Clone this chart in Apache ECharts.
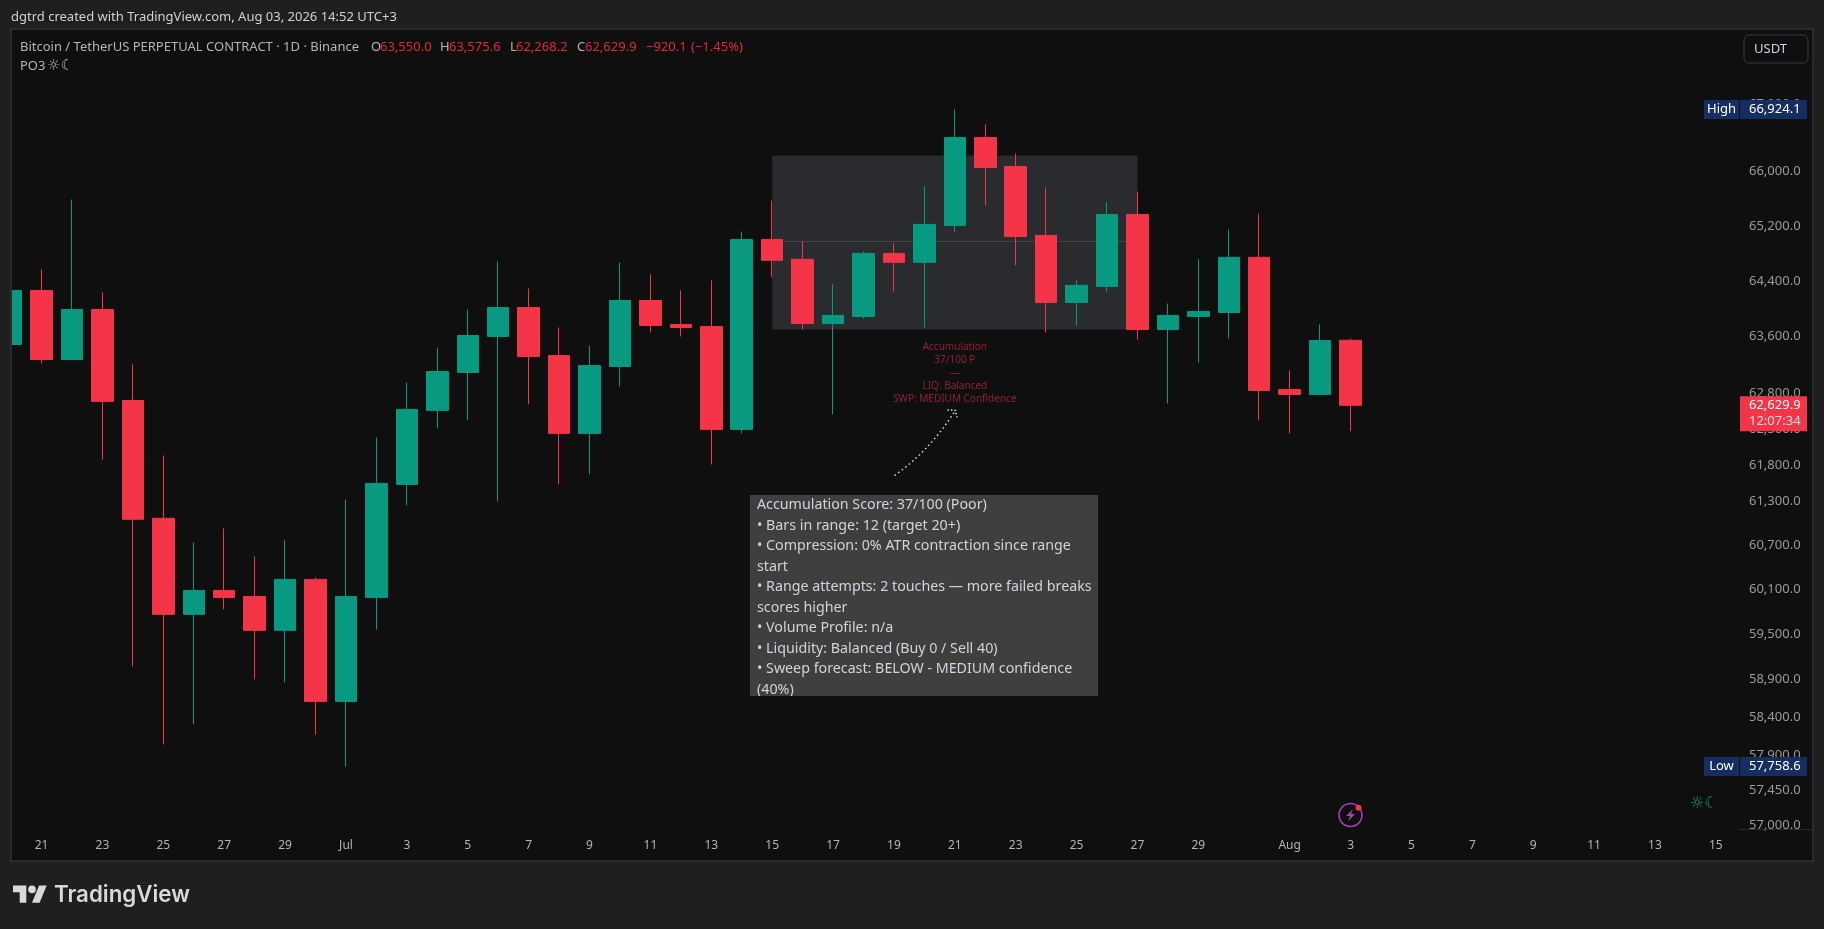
<!DOCTYPE html>
<html>
<head>
<meta charset="utf-8">
<style>html,body{margin:0;padding:0;background:#1f1f1f}#c{width:1824px;height:929px}</style>
<script src="https://cdn.jsdelivr.net/npm/echarts@6/dist/echarts.min.js"></script>
</head>
<body>
<div id="c"></div>
<script>
// Day index: 0 = 21 Jun
const barDays = [-1,0,1,2,3,4,5,6,7,8,9,10,11,12,13,14,15,16,17,18,19,20,21,22,23,24,25,26,27,28,29,30,31,32,33,34,35,36,37,38,39,40,41,42,43];
const opens  = [63490,64264,63276,63990,62698,61064,59763,60084,60003,59549,60233,58608,59990,61529,62559,63093,63604,64019,63332,62237,63178,64119,63776,63747,62293,65003,64714,63790,63890,64800,64670,65207,66506,66075,65061,64090,64322,65368,63704,63890,63947,64743,62853,62783,63550.0];
const closes = [64264,63276,63990,62685,61050,59763,60084,59990,59549,60233,58608,60003,61543,62573,63107,63618,64019,63318,62237,63192,64119,63762,63733,62293,65003,64699,63790,63905,64800,64670,65222,66506,66060,65046,64090,64337,65368,63704,63905,63962,64743,62839,62783,63547,62629.9];
const lows   = [63490,63220,63276,61874,59069,58045,58307,59830,58897,58858,58176,57758.6,59562,61242,62307,62419,61296,62643,61529,61667,62895,63661,63604,61805,62237,64453,63704,62503,63862,64250,63733,65105,65499,64627,63661,63762,64250,63561,62657,63234,63576,62419,62237,62783,62268.2];
const highs  = [64264,64569,65587,64235,63206,61929,60735,60926,60543,60762,60260,61322,62181,62952,63447,63990,64685,64293,63733,63476,64670,64496,64264,64409,65119,65572,64973,64351,64828,64944,65779,66924.1,66699,66268,65764,64409,65543,65705,64076,64714,65149,65382,63121,63776,63575.6];

const priceTicks = [67000,66000,65200,64400,63600,62800,62300,61800,61300,60700,60100,59500,58900,58400,57900,57450,57000];
const dayTicks = [0,2,4,6,8,10,12,14,16,18,20,22,24,26,28,30,32,34,36,38,41,43,45,47,49,51,53,55];
const dayTickLabels = ['21','23','25','27','29','Jul','3','5','7','9','11','13','15','17','19','21','23','25','27','29','Aug','3','5','7','9','11','13','15'];

const rangeDays = [24,36];
const rangeLevels = [66238,64973,63704];
const noteDay = 30;
const notePrice = 63447;
const noteLines = ['Accumulation','37/100 P','—','LIQ: Balanced','SWP: MEDIUM Confidence'];
const arrowStart = [28.02,61653];
const arrowControl = [29.15,61985];
const arrowEnd = [30.02,62559];

const tagValues = [66924.1,57758.6,62629.9];
const tagNames = ['High','Low',''];
const countdown = '12:07:34';

const tooltipLines = [
 'Accumulation Score: 37/100 (Poor)',
 '• Bars in range: 12 (target 20+)',
 '• Compression: 0% ATR contraction since range',
 'start',
 '• Range attempts: 2 touches — more failed breaks',
 'scores higher',
 '• Volume Profile: n/a',
 '• Liquidity: Balanced (Buy 0 / Sell 40)',
 '• Sweep forecast: BELOW - MEDIUM confidence',
 '(40%)'
];

const UP='#089981', DOWN='#F43547', FONT='"Noto Sans",sans-serif';
const fmt = v => v.toLocaleString('en-US',{minimumFractionDigits:1,maximumFractionDigits:1});
const candleData = barDays.map((d,i)=>[d,opens[i],closes[i],lows[i],highs[i]]);

function txt(x,y,text,fill,size,extra){
  return {type:'text',z:20,silent:true,x:x,y:y,style:Object.assign({text:text,fill:fill,font:(size||13)+'px '+FONT,verticalAlign:'middle',align:'left'},extra||{})};
}
const LEG='#b2b5be', VAL='#e0293f';
const graphics = [
 {type:'rect',z:-2,silent:true,shape:{x:11,y:29,width:1802,height:832},style:{fill:'#0f0f0f',stroke:'#2a2a2a',lineWidth:2}},
 {type:'rect',z:10,silent:true,shape:{x:0,y:29,width:10,height:832},style:{fill:'#1f1f1f'}},
 {type:'rect',z:10,silent:true,shape:{x:10,y:28,width:2,height:834},style:{fill:'#2a2a2a'}},
 {type:'line',z:1,silent:true,shape:{x1:1739,y1:829.5,x2:1812,y2:829.5},style:{stroke:'#2a2a2a',lineWidth:1}},
 txt(11,17,'dgtrd created with TradingView.com, Aug 03, 2026 14:52 UTC+3','#d1d1d1',13),
 txt(20,47,'Bitcoin / TetherUS PERPETUAL CONTRACT · 1D · Binance',LEG,13),
 txt(371,47,'O',LEG,13),txt(380,47,'63,550.0',VAL,13),
 txt(440,47,'H',LEG,13),txt(449,47,'63,575.6',VAL,13),
 txt(510,47,'L',LEG,13),txt(516,47,'62,268.2',VAL,13),
 txt(577,47,'C',LEG,13),txt(585,47,'62,629.9',VAL,13),
 txt(646,47,'−920.1',VAL,13),txt(691,47,'(−1.45%)',VAL,13),
 txt(20,66,'PO3',LEG,13),
 {type:'text',z:20,silent:true,x:47,y:66,style:{text:'☼☾',fill:LEG,font:'15px "DejaVu Sans"',verticalAlign:'middle'}},
 {type:'rect',z:20,silent:true,shape:{x:1744,y:35,width:64,height:28,r:5},style:{fill:'#0f0f0f',stroke:'#363a45',lineWidth:1}},
 txt(1754,49,'USDT','#d1d4dc',13),
 // tooltip box
 {type:'rect',z:20,silent:true,shape:{x:750,y:495,width:348,height:201},style:{fill:'#3f3f3f'}},
 ...tooltipLines.map((t,i)=>txt(757,505+i*20.5,t,'#d1d4dc',14.25,{})),
 {type:'rect',z:21,silent:true,shape:{x:750,y:696,width:348,height:8},style:{fill:'#0f0f0f'}},
 // lightning badge
 {type:'circle',z:20,silent:true,shape:{cx:1350.5,cy:815,r:11.5},style:{fill:'none',stroke:'#a83fb8',lineWidth:1.5}},
 {type:'polygon',z:20,silent:true,shape:{points:[[1353,809],[1346,816],[1350,816],[1348,821.5],[1355,814],[1351,814]]},style:{fill:'#a83fb8'}},
 {type:'circle',z:21,silent:true,shape:{cx:1358.5,cy:807.7,r:3},style:{fill:'#F43547'}},
 {type:'text',z:20,silent:true,x:1690,y:804,style:{text:'☼☾',fill:'#0a9b82',font:'16px "DejaVu Sans"',verticalAlign:'middle'}},
 // logo
 {type:'polygon',z:20,silent:true,shape:{points:[[13,885.6],[26.3,885.6],[26.3,902.7],[19.7,902.7],[19.7,892.2],[13,892.2]]},style:{fill:'#d9d9d9'}},
 {type:'circle',z:20,silent:true,shape:{cx:32,cy:889.4,r:3.8},style:{fill:'#d9d9d9'}},
 {type:'polygon',z:20,silent:true,shape:{points:[[39.1,885.6],[46.7,885.6],[39.6,902.7],[32,902.7]]},style:{fill:'#d9d9d9'}},
 {type:'text',z:20,silent:true,x:54,y:895,style:{text:'TradingView',fill:'#d9d9d9',font:'600 22.3px Inter,sans-serif',verticalAlign:'middle'}}
];

const option = {
  animation:false,
  backgroundColor:'#1f1f1f',
  graphic:graphics,
  grid:{left:12,right:85,top:30.5,bottom:98.5,containLabel:false},
  xAxis:{type:'value',min:-0.972,max:55.76,splitLine:{show:false},axisLine:{show:false},axisTick:{show:false,customValues:dayTicks},
    axisLabel:{customValues:dayTicks,margin:9,color:'#b2b5be',fontSize:12,fontFamily:FONT,showMinLabel:true,showMaxLabel:true,
      formatter:v=>dayTickLabels[dayTicks.indexOf(v)]}},
  yAxis:{type:'log',position:'right',min:56936,max:68120,splitLine:{show:false},minorSplitLine:{show:false},axisLine:{show:false},axisTick:{show:false,customValues:priceTicks},
    axisLabel:{customValues:priceTicks,margin:10,align:'left',color:'#9a9a9a',fontSize:13,fontFamily:FONT,showMinLabel:true,showMaxLabel:true,formatter:v=>fmt(v)}},
  series:[
    {type:'custom',z:1,silent:true,coordinateSystem:'cartesian2d',data:[[rangeDays[0],rangeLevels[0]]],encode:{x:0,y:1},
     renderItem:(p,api)=>{
       const a=api.coord([rangeDays[0],rangeLevels[0]]),b=api.coord([rangeDays[1],rangeLevels[2]]),m=api.coord([rangeDays[0],rangeLevels[1]]);
       const s=api.coord(arrowStart),c=api.coord(arrowControl),e=api.coord(arrowEnd),n=api.coord([noteDay,notePrice]);
       return {type:'group',children:[
         {type:'rect',shape:{x:a[0],y:a[1],width:b[0]-a[0],height:b[1]-a[1]},style:{fill:'#2a2b2f'}},
         {type:'line',shape:{x1:a[0],y1:m[1],x2:b[0],y2:m[1]},style:{stroke:'#45464a',lineWidth:1}},
         {type:'bezierCurve',shape:{x1:s[0],y1:s[1],x2:e[0],y2:e[1],cpx1:c[0],cpy1:c[1]},style:{fill:'none',stroke:'#dddddd',lineWidth:1.5,lineDash:[1.5,3]}},
         {type:'polyline',shape:{points:[[e[0]-8,e[1]-0.5],[e[0],e[1]],[e[0]+1.5,e[1]+7]]},style:{fill:'none',stroke:'#dddddd',lineWidth:1.5,lineDash:[1.5,2]}},
         {type:'text',x:n[0],y:n[1]-6.5,style:{text:noteLines.join('\n'),fill:'#8e2433',font:'10px '+FONT,align:'center',verticalAlign:'top',lineHeight:13}}
       ]};
     }},
    {type:'candlestick',z:2,silent:true,data:candleData,encode:{x:0,y:[1,2,3,4]},barWidth:22,clip:true,
     itemStyle:{color:UP,color0:DOWN,borderColor:UP,borderColor0:DOWN,borderWidth:1}},
    {type:'custom',z:5,silent:true,data:tagValues.map(v=>[55.76,v]),encode:{x:0,y:1},
     renderItem:(p,api)=>{
       const i=p.dataIndex,c=api.coord([api.value(0),api.value(1)]),y=c[1],children=[];
       const isCur=!tagNames[i];
       const top=isCur?y-9:y-9.5,h=isCur?35:19,fill=isCur?DOWN:'#142e61';
       children.push({type:'rect',shape:{x:1740,y:top,width:67,height:h},style:{fill:fill}});
       children.push({type:'text',x:1749,y:top+(isCur?8.5:9.5),style:{text:fmt(api.value(1)),fill:'#fff',font:'13px '+FONT,verticalAlign:'middle'}});
       if(isCur){children.push({type:'text',x:1749,y:top+24.5,style:{text:countdown,fill:'#ffdfe2',font:'13px '+FONT,verticalAlign:'middle'}});}
       else{
         children.push({type:'rect',shape:{x:1704,y:top,width:35,height:h},style:{fill:fill}});
         children.push({type:'text',x:1721.5,y:top+9.5,style:{text:tagNames[i],fill:'#fff',font:'13px '+FONT,align:'center',verticalAlign:'middle'}});
       }
       return {type:'group',children};
     }}
  ]
};
const chart = echarts.init(document.getElementById('c'),null,{renderer:'canvas'});
chart.setOption(option);
</script>
</body>
</html>
